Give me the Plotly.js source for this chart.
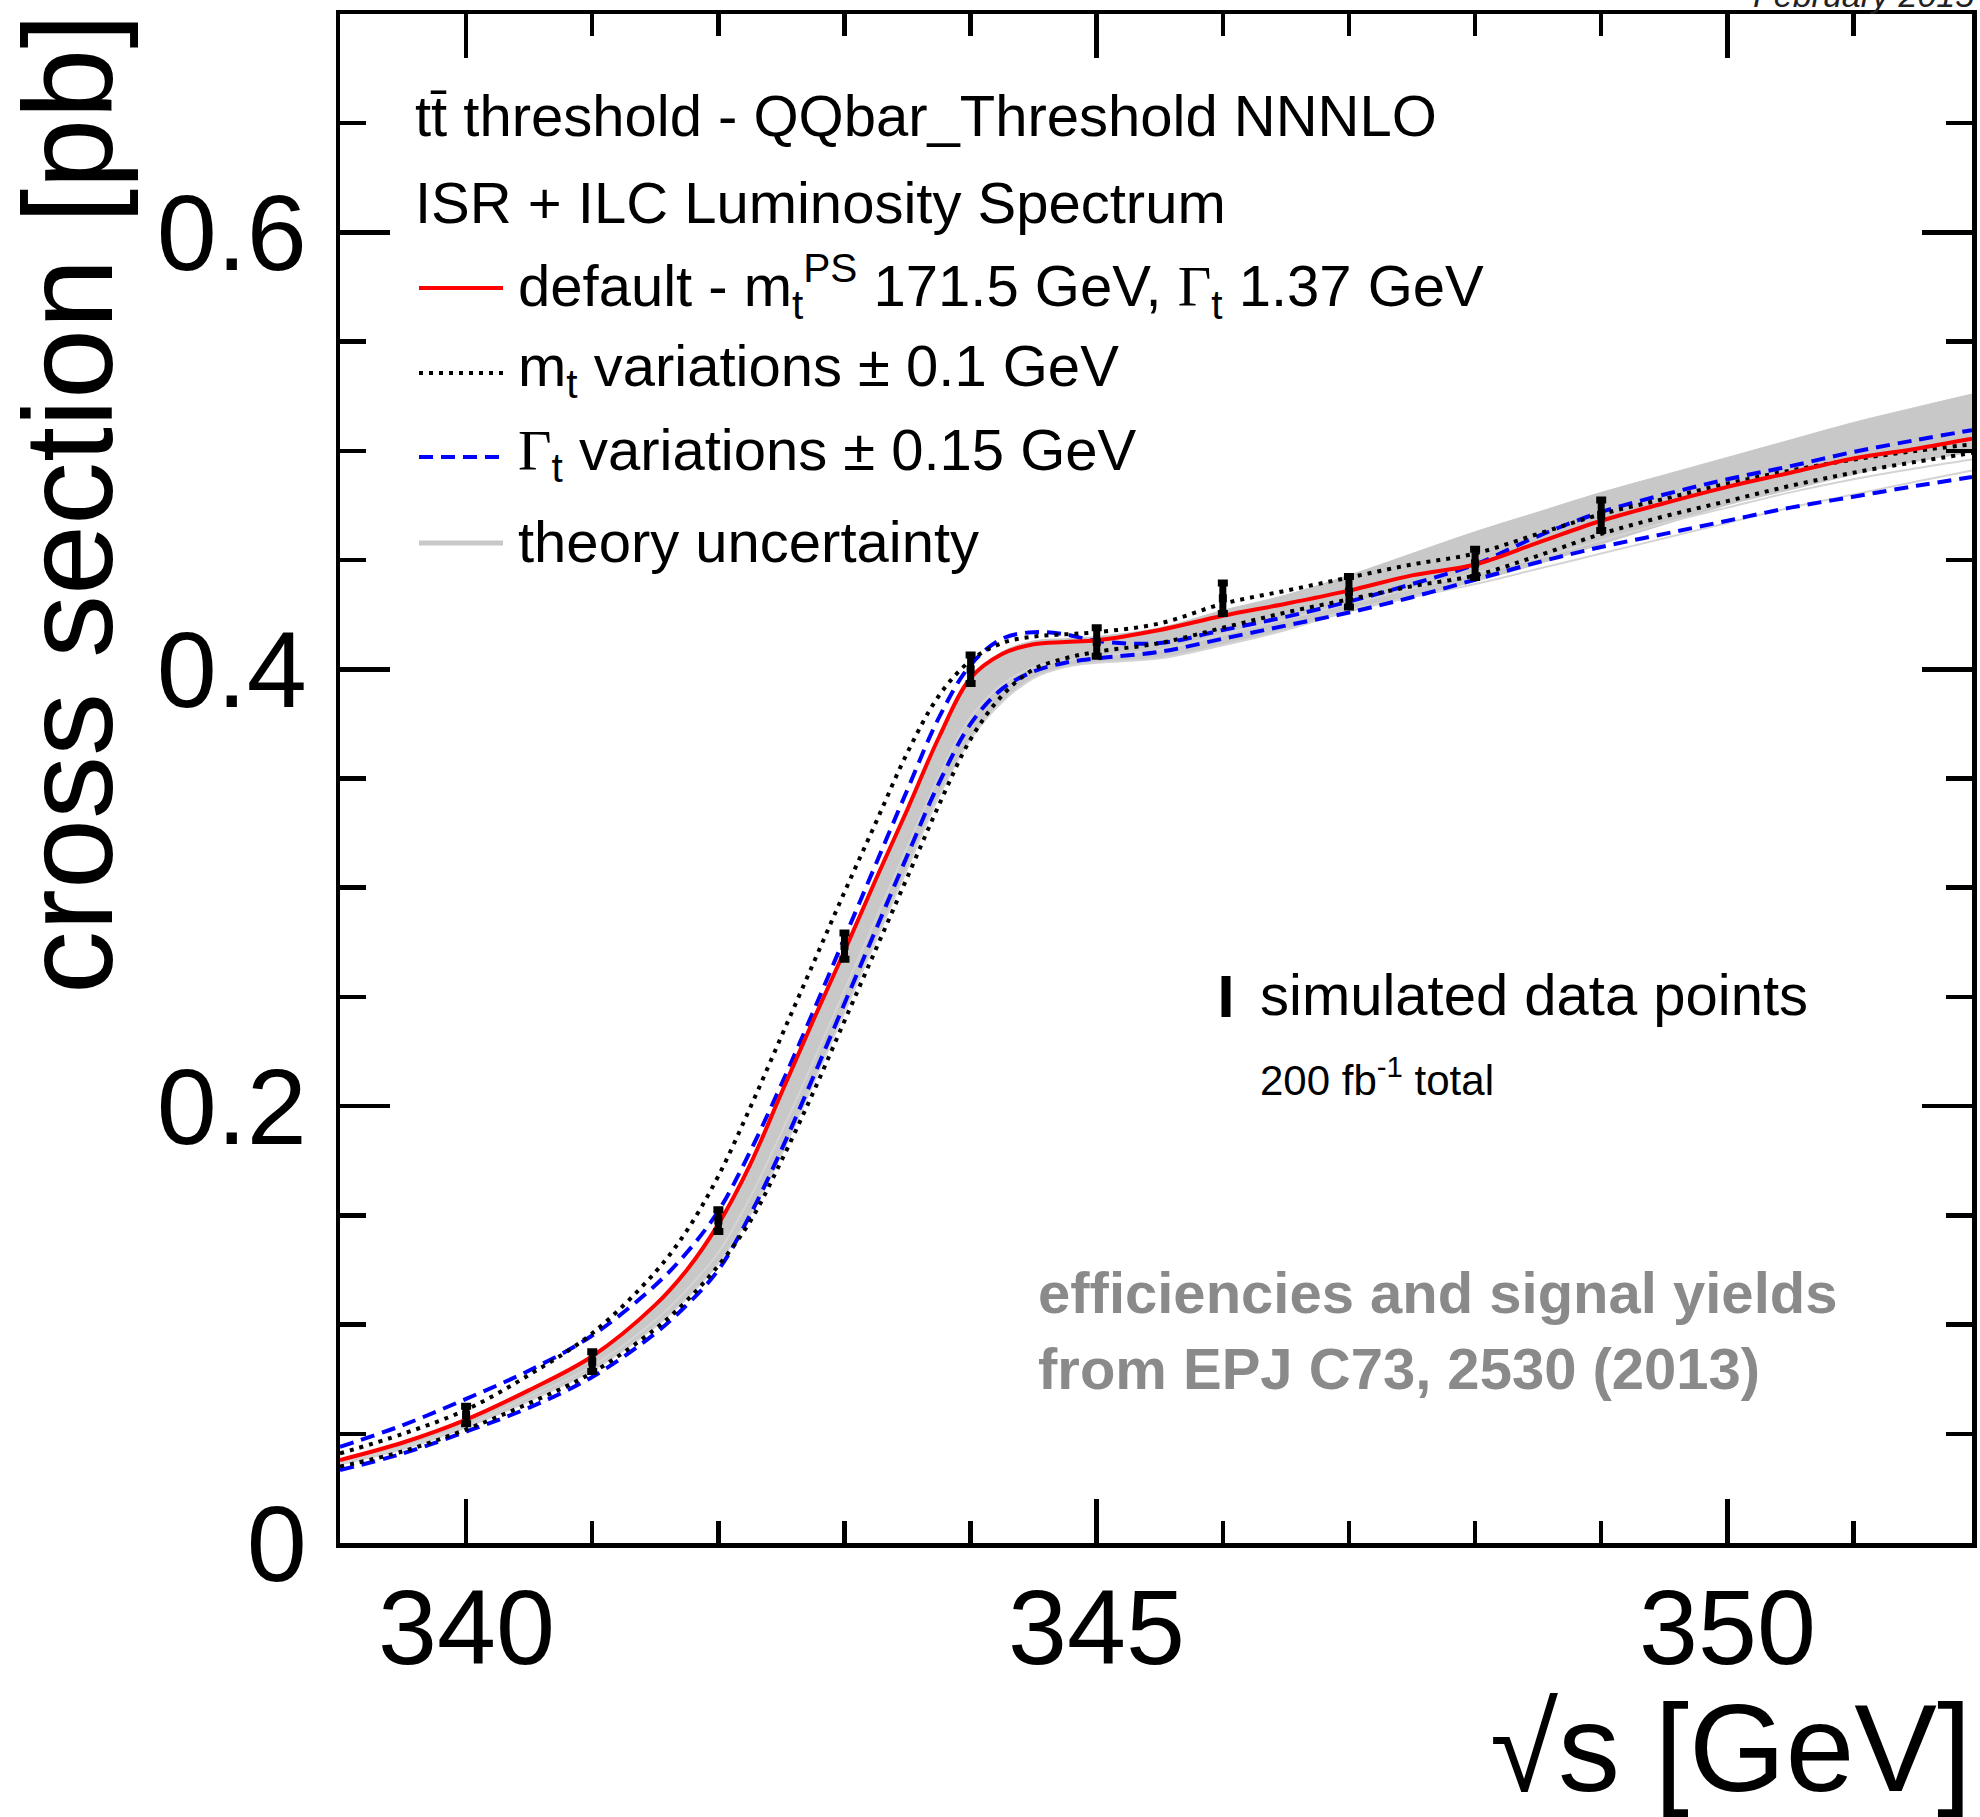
<!DOCTYPE html>
<html>
<head>
<meta charset="utf-8">
<script src="https://cdn.plot.ly/plotly-3.0.1.min.js"></script>
<style>html,body{margin:0;padding:0;background:#fff;}#chart{width:1980px;height:1817px;}</style>
</head>
<body>
<div id="chart"></div>
<script>
// ---- data ----
const sqrtS = [339, 339.5, 340, 340.5, 341, 341.5, 341.75, 342, 342.25, 342.5, 342.75, 343, 343.25, 343.5, 343.75, 344, 344.25, 344.5, 344.75, 345, 345.5, 346, 346.5, 347, 347.5, 348, 348.5, 349, 349.5, 350, 350.5, 351, 351.5, 351.94];
const xsecDefault = [0.038, 0.046, 0.0565, 0.070, 0.0855, 0.109, 0.125, 0.146, 0.173, 0.206, 0.239, 0.271, 0.304, 0.336, 0.369, 0.396, 0.407, 0.4115, 0.4125, 0.4133, 0.418, 0.4245, 0.430, 0.436, 0.443, 0.448, 0.458, 0.468, 0.476, 0.4835, 0.490, 0.4965, 0.501, 0.5055];
const xsecMtDown = [0.041, 0.050, 0.061, 0.077, 0.096, 0.124, 0.143, 0.168, 0.199, 0.232, 0.265, 0.298, 0.330, 0.362, 0.388, 0.404, 0.412, 0.415, 0.416, 0.417, 0.421, 0.430, 0.436, 0.442, 0.448, 0.453, 0.462, 0.471, 0.478, 0.485, 0.491, 0.496, 0.500, 0.503];
const xsecMtUp = [0.035, 0.042, 0.052, 0.064, 0.078, 0.098, 0.111, 0.127, 0.147, 0.175, 0.206, 0.239, 0.272, 0.305, 0.338, 0.368, 0.388, 0.400, 0.405, 0.408, 0.412, 0.419, 0.426, 0.432, 0.438, 0.443, 0.452, 0.462, 0.470, 0.477, 0.484, 0.490, 0.495, 0.499];
const xsecGammaA = [0.044, 0.054, 0.066, 0.079, 0.095, 0.118, 0.133, 0.152, 0.179, 0.210, 0.243, 0.277, 0.311, 0.345, 0.378, 0.402, 0.414, 0.417, 0.416, 0.413, 0.412, 0.418, 0.424, 0.431, 0.439, 0.448, 0.461, 0.472, 0.480, 0.487, 0.493, 0.4995, 0.505, 0.5095];
const xsecGammaB = [0.0334, 0.041, 0.051, 0.062, 0.076, 0.096, 0.109, 0.125, 0.150, 0.180, 0.213, 0.247, 0.281, 0.315, 0.348, 0.375, 0.391, 0.399, 0.403, 0.405, 0.408, 0.414, 0.420, 0.426, 0.433, 0.441, 0.449, 0.456, 0.462, 0.468, 0.474, 0.479, 0.484, 0.488];
const theoryHigh = [0.038, 0.046, 0.0565, 0.070, 0.0855, 0.109, 0.125, 0.146, 0.173, 0.206, 0.239, 0.271, 0.304, 0.336, 0.369, 0.396, 0.408, 0.413, 0.414, 0.415, 0.419, 0.427, 0.434, 0.443, 0.453, 0.463, 0.472, 0.481, 0.489, 0.497, 0.505, 0.513, 0.520, 0.526];
const theoryLow = [0.036, 0.043, 0.053, 0.065, 0.079, 0.099, 0.112, 0.128, 0.150, 0.178, 0.210, 0.243, 0.276, 0.309, 0.342, 0.368, 0.385, 0.396, 0.401, 0.403, 0.405, 0.411, 0.418, 0.426, 0.433, 0.440, 0.448, 0.457, 0.466, 0.475, 0.482, 0.489, 0.495, 0.499];
const theoryLineA = [0.036, 0.043, 0.053, 0.065, 0.079, 0.099, 0.112, 0.128, 0.150, 0.178, 0.210, 0.243, 0.276, 0.309, 0.342, 0.368, 0.385, 0.396, 0.401, 0.403, 0.405, 0.411, 0.418, 0.427, 0.433, 0.439, 0.446, 0.453, 0.460, 0.467, 0.474, 0.480, 0.486, 0.491];
const theoryLineB = [0.037, 0.044, 0.054, 0.067, 0.081, 0.102, 0.116, 0.133, 0.158, 0.188, 0.220, 0.253, 0.286, 0.319, 0.351, 0.378, 0.393, 0.401, 0.404, 0.406, 0.409, 0.416, 0.423, 0.430, 0.437, 0.444, 0.451, 0.459, 0.467, 0.474, 0.481, 0.487, 0.492, 0.496];
const dataX = [340, 341, 342, 343, 344, 345, 346, 347, 348, 349];
const dataY = [0.0586, 0.083, 0.1476, 0.2733, 0.400, 0.4125, 0.4325, 0.4355, 0.4485, 0.4705];
const dataErr = [0.004, 0.0045, 0.005, 0.006, 0.0065, 0.0065, 0.007, 0.007, 0.0065, 0.007];
const xTickVals = [340, 345, 350];
const xTickText = ['340', '345', '350'];
const yTickVals = [0, 0.2, 0.4, 0.6];
const yTickText = ['0', '0.2', '0.4', '0.6'];

// ---- layout geometry (pixels) ----
const W = 1980, H = 1817, ML = 340, MR = 8, MT = 14, MB = 274;
const PW = W - ML - MR, PH = H - MT - MB, Y0 = H - MB;
const px = x => (x - ML) / PW;
const py = y => (Y0 - y) / PH;
const FONT = 'Liberation Sans, Arial, Helvetica, sans-serif';
const SERIF = 'Liberation Serif, Times New Roman, serif';

const gray = '#c8c8c8';
const traces = [
  {x: sqrtS, y: theoryLow, mode: 'lines', line: {width: 0, color: gray, shape: 'spline'}, showlegend: false, hoverinfo: 'skip'},
  {x: sqrtS, y: theoryHigh, mode: 'lines', fill: 'tonexty', fillcolor: gray, line: {width: 1, color: gray, shape: 'spline'}, showlegend: false, hoverinfo: 'skip'},
  {x: sqrtS, y: theoryLineA, mode: 'lines', line: {width: 2, color: '#d4d4d4', shape: 'spline'}, showlegend: false},
  {x: sqrtS, y: theoryLineB, mode: 'lines', line: {width: 2, color: '#d4d4d4', shape: 'spline'}, showlegend: false},
  {x: sqrtS, y: xsecGammaA, mode: 'lines', line: {width: 4, color: '#0000ff', dash: '14px,8px', shape: 'spline'}, showlegend: false},
  {x: sqrtS, y: xsecGammaB, mode: 'lines', line: {width: 4, color: '#0000ff', dash: '14px,8px', shape: 'spline'}, showlegend: false},
  {x: sqrtS, y: xsecMtDown, mode: 'lines', line: {width: 4, color: '#000000', dash: '4px,6px', shape: 'spline'}, showlegend: false},
  {x: sqrtS, y: xsecMtUp, mode: 'lines', line: {width: 4, color: '#000000', dash: '4px,6px', shape: 'spline'}, showlegend: false},
  {x: sqrtS, y: xsecDefault, mode: 'lines', line: {width: 4, color: '#ff0000', shape: 'spline'}, showlegend: false},
  {x: dataX, y: dataY, mode: 'markers', marker: {symbol: 'square', size: 8, color: '#000'},
   error_y: {type: 'data', array: dataErr, visible: true, thickness: 7, width: 5, color: '#000'}, showlegend: false}
];

const axisCommon = {
  showline: true, linecolor: '#000', linewidth: 4.5, mirror: 'allticks',
  ticks: 'inside', tickcolor: '#000', tickwidth: 4.5,
  showgrid: false, zeroline: false, fixedrange: true,
  tickfont: {family: FONT, size: 108, color: '#000'}
};

const ann = [];
function txt(text, x, y, size, opts) {
  ann.push(Object.assign({text: text, xref: 'paper', yref: 'paper', x: px(x), y: py(y),
    xanchor: 'left', yanchor: 'middle', showarrow: false,
    font: {family: FONT, size: size, color: '#000'}}, opts || {}));
}
const LEG = 58;
txt('tt\u0304 threshold - QQbar_Threshold NNNLO', 413, 115, LEG);
txt('ISR + ILC Luminosity Spectrum', 413, 202, LEG);
txt('default - m<sub>t</sub><sup>PS</sup> 171.5 GeV, <span style="font-family:' + SERIF + '">\u0393</span><sub>t</sub> 1.37 GeV', 516, 286, LEG);
txt('m<sub>t</sub> variations \u00b1 0.1 GeV', 516, 370, LEG);
txt('<span style="font-family:' + SERIF + '">\u0393</span><sub>t</sub> variations \u00b1 0.15 GeV', 516, 454, LEG);
txt('theory uncertainty', 516, 541, LEG);
txt('simulated data points', 1258, 994, LEG);
txt('200 fb<sup>-1</sup> total', 1258, 1077, 42);
txt('<b>efficiencies and signal yields</b>', 1036, 1292, LEG, {font: {family: FONT, size: LEG, color: '#8a8a8a'}});
txt('<b>from EPJ C73, 2530 (2013)</b>', 1036, 1368, LEG, {font: {family: FONT, size: LEG, color: '#8a8a8a'}});
// x tick labels placed on the x scale
xTickVals.forEach((v, i) => {
  ann.push({text: xTickText[i], xref: 'x', yref: 'paper', x: v, y: py(1627), xanchor: 'center', yanchor: 'middle',
    showarrow: false, font: {family: FONT, size: 106, color: '#000'}});
});
// axis titles
ann.push({text: 'cross section [pb]', xref: 'paper', yref: 'paper', x: px(68), y: py(12), xanchor: 'center', yanchor: 'top',
  textangle: -90, showarrow: false, font: {family: FONT, size: 126, color: '#000'}});
ann.push({text: '\u221as [GeV]', xref: 'paper', yref: 'paper', x: px(1974), y: py(1748),
  xanchor: 'right', yanchor: 'middle', showarrow: false, font: {family: FONT, size: 124, color: '#000'}});
ann.push({text: '<i>February 2015</i>', xref: 'paper', yref: 'paper', x: px(1976), y: py(16), xanchor: 'right', yanchor: 'bottom',
  showarrow: false, font: {family: FONT, size: 34, color: '#222'}});

const shapes = [];
function legLine(y, color, width, dash) {
  shapes.push({type: 'line', xref: 'paper', yref: 'paper', x0: px(419), x1: px(503), y0: py(y), y1: py(y),
    line: {color: color, width: width, dash: dash || 'solid'}});
}
legLine(288, '#ff0000', 4);
legLine(373, '#000000', 4, '4px,6px');
legLine(457, '#0000ff', 4, '14px,8px');
legLine(543, gray, 5);
shapes.push({type: 'line', xref: 'paper', yref: 'paper', x0: px(1226), x1: px(1226), y0: py(976), y1: py(1017),
  line: {color: '#000', width: 9}});

const layout = {
  width: W, height: H,
  margin: {l: ML, r: MR, t: MT, b: MB, pad: 0},
  paper_bgcolor: '#fff', plot_bgcolor: '#fff',
  showlegend: false,
  xaxis: Object.assign({}, axisCommon, {
    range: [339, 351.94], tickmode: 'array', tickvals: xTickVals, ticktext: xTickText,
    showticklabels: false, ticklen: 44,
    minor: {ticks: 'inside', tick0: 339, dtick: 1, ticklen: 22, tickwidth: 4.5, tickcolor: '#000', showgrid: false}
  }),
  yaxis: Object.assign({}, axisCommon, {
    range: [0, 0.7], tickmode: 'array', tickvals: yTickVals, ticktext: yTickText,
    ticklen: 50, ticklabelstandoff: 7,
    minor: {ticks: 'inside', tick0: 0, dtick: 0.05, ticklen: 26, tickwidth: 4.5, tickcolor: '#000', showgrid: false}
  }),
  annotations: ann,
  shapes: shapes
};

Plotly.newPlot('chart', traces, layout, {displayModeBar: false, staticPlot: true});
</script>
</body>
</html>
